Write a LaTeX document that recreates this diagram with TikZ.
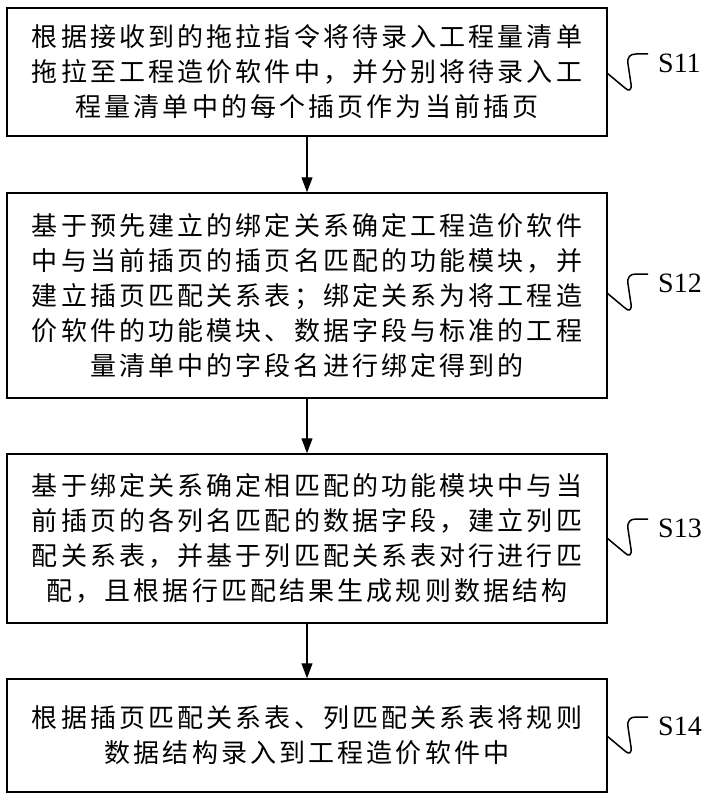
\documentclass[tikz,border=0pt]{standalone}
\usepackage{fontspec}
\newfontfamily\cjk[LetterSpace=12]{Noto Sans CJK SC}
\setmainfont{Liberation Serif}
\usetikzlibrary{arrows.meta}
\begin{document}
\begin{tikzpicture}[x=1bp,y=-1bp,
  stepbox/.style={draw,line width=1.5bp,minimum width=600bp,inner sep=0pt,align=center,
    font=\cjk\fontsize{26bp}{35bp}\selectfont},
  flow/.style={line width=1.3bp,-{Triangle[length=15bp,width=11bp]}},
  squig/.style={line width=1.5bp,line join=round},
  lbl/.style={font=\fontsize{28bp}{32bp}\selectfont,inner sep=0pt}]
\useasboundingbox (0,0) rectangle (711,800);
\node[stepbox,minimum height=128bp] (b1) at (307,72) {根据接收到的拖拉指令将待录入工程量清单\\拖拉至工程造价软件中，并分别将待录入工\\程量清单中的每个插页作为当前插页};
\node[stepbox,minimum height=205bp] (b2) at (307,295.5) {基于预先建立的绑定关系确定工程造价软件\\中与当前插页的插页名匹配的功能模块，并\\建立插页匹配关系表；绑定关系为将工程造\\价软件的功能模块、数据字段与标准的工程\\量清单中的字段名进行绑定得到的};
\node[stepbox,minimum height=169bp] (b3) at (307,538.5) {基于绑定关系确定相匹配的功能模块中与当\\前插页的各列名匹配的数据字段，建立列匹\\配关系表，并基于列匹配关系表对行进行匹\\配，且根据行匹配结果生成规则数据结构};
\node[stepbox,minimum height=113bp] (b4) at (307,735.5) {根据插页匹配关系表、列匹配关系表将规则\\数据结构录入到工程造价软件中};
\draw[flow] (b1) -- (b2);
\draw[flow] (b2) -- (b3);
\draw[flow] (b3) -- (b4);
\foreach \n/\lab/\hh in {1/S11/54,2/S12/274,3/S13/519,4/S14/717}{
  \node[lbl,anchor=west] (s\n) at (658,\hh+9) {\lab};
  \coordinate (t\n) at (648,\hh);
  \draw[squig] (607,\hh+19) -- (625,\hh+34) .. controls (629,\hh+38) and (632,\hh+36) .. (631,\hh+30)
     -- (628,\hh+10) .. controls (627,\hh+3) and (630,\hh) .. (636,\hh) -- (t\n);
}
\end{tikzpicture}
\end{document}
